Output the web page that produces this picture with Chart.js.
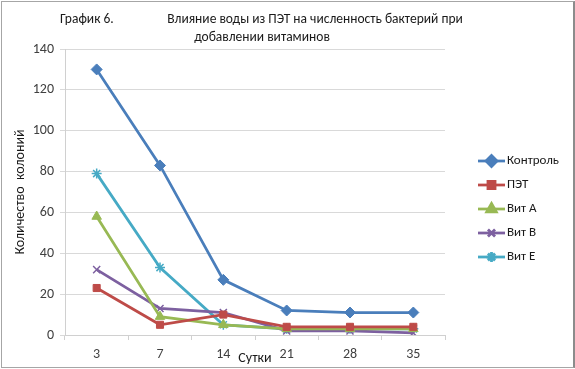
<!DOCTYPE html>
<html>
<head>
<meta charset="utf-8">
<script src="https://cdn.jsdelivr.net/npm/chart.js@4/dist/chart.umd.min.js"></script>
<style>
  html, body { margin: 0; padding: 0; background: #fff; }
  #wrap { position: relative; width: 575px; height: 369px; }
  #frame { position: absolute; left: 1px; top: 1px; width: 571px; height: 365px;
           border: 1px solid #a6a6a6; border-right: 2px solid #8c8c8c; box-sizing: content-box; pointer-events: none; }
</style>
</head>
<body>
<div id="wrap">
  <canvas id="chart" width="575" height="369"></canvas>
  <div id="frame"></div>
</div>
<script>
// Влияние воды из ПЭТ на численность бактерий при добавлении витаминов

const days = ['3', '7', '14', '21', '28', '35'];
const control = [130, 83, 27, 12, 11, 11];
const pet = [23, 5, 10, 4, 4, 4];
const vitA = [58, 9, 5, 3, 3, 3];
const vitB = [32, 13, 11, 2, 2, 1];
const vitE = [79, 33, 5, 3, 3, 3];

const seriesNames = ['Контроль', 'ПЭТ', 'Вит A', 'Вит B', 'Вит E'];
const seriesColors = ['#4a7ebb', '#be4b48', '#98b954', '#7d60a0', '#46aac5'];
const FONT = 'Carlito, "Liberation Sans", sans-serif';

function makeSet(i, values, style, radius) {
    return {
        label: seriesNames[i],
        data: values,
        borderColor: seriesColors[i],
        backgroundColor: seriesColors[i],
        pointStyle: style,
        pointRadius: radius,
        pointBorderWidth: style === 'crossRot' || style === 'star' ? 1.5 : 1,
        borderWidth: 2.75,
        tension: 0
    };
}

// Title drawn over the canvas (Excel-style, not centered on the canvas)
const titlePlugin = {
    id: 'excelTitle',
    afterDraw(chart) {
        const ctx = chart.ctx;
        ctx.save();
        ctx.fillStyle = '#1a1a1a';
        ctx.font = '13.5px ' + FONT;
        ctx.textBaseline = 'middle';
        ctx.textAlign = 'left';
        ctx.fillText('График 6.', 60, 20);
        ctx.textAlign = 'center';
        ctx.fillText('Влияние воды из ПЭТ на численность бактерий при', 315, 20);
        ctx.fillText('добавлении витаминов', 262, 38);
        ctx.restore();
    }
};

// Legend with line + marker like Excel
const legendPlugin = {
    id: 'excelLegend',
    afterDraw(chart) {
        const ctx = chart.ctx;
        chart.data.datasets.forEach((ds, i) => {
            const y = 161 + i * 24;
            ctx.save();
            ctx.strokeStyle = ds.borderColor;
            ctx.fillStyle = ds.backgroundColor;
            ctx.lineWidth = 2.75;
            ctx.beginPath();
            ctx.moveTo(478, y);
            ctx.lineTo(505, y);
            ctx.stroke();
            Chart.helpers.drawPoint(ctx, {
                pointStyle: ds.pointStyle,
                radius: ds.pointRadius,
                borderWidth: ds.pointBorderWidth,
                rotation: 0
            }, 491.5, y);
            ctx.fillStyle = '#1a1a1a';
            ctx.font = '13px ' + FONT;
            ctx.textAlign = 'left';
            ctx.textBaseline = 'middle';
            ctx.fillText(ds.label, 507, y);
            ctx.restore();
        });
    }
};

new Chart(document.getElementById('chart'), {
    type: 'line',
    plugins: [titlePlugin, legendPlugin],
    data: {
        labels: days,
        datasets: [
            makeSet(0, control, 'rectRot', 5.5),
            makeSet(1, pet, 'rect', 5),
            makeSet(2, vitA, 'triangle', 5.5),
            makeSet(3, vitB, 'crossRot', 5),
            makeSet(4, vitE, 'star', 5)
        ]
    },
    options: {
        responsive: false,
        animation: false,
        layout: {
            padding: { left: 0, right: 130, top: 49, bottom: 0 }
        },
        plugins: {
            legend: { display: false },
            title: { display: false },
            tooltip: { enabled: false }
        },
        scales: {
            x: {
                offset: true,
                afterFit: s => { s.height = 34; },
                grid: {
                    offset: true,
                    drawOnChartArea: false,
                    drawTicks: true,
                    tickLength: 5,
                    color: '#d0d0d0'
                },
                border: { color: '#d0d0d0' },
                ticks: {
                    color: '#404040',
                    font: { family: FONT, size: 14 },
                    padding: 6,
                    maxRotation: 0
                },
                title: {
                    display: true,
                    text: 'Сутки',
                    color: '#1a1a1a',
                    font: { family: FONT, size: 14 },
                    padding: { top: 0, bottom: 2 }
                }
            },
            y: {
                min: 0,
                max: 140,
                afterFit: s => { s.width = 65; },
                grid: {
                    color: '#d9d9d9',
                    drawTicks: true,
                    tickLength: 5
                },
                border: { color: '#d0d0d0' },
                ticks: {
                    stepSize: 20,
                    color: '#404040',
                    font: { family: FONT, size: 14 },
                    padding: 6
                },
                title: {
                    display: true,
                    text: 'Количество  колоний',
                    color: '#1a1a1a',
                    font: { family: FONT, size: 14 },
                    padding: { top: 12, bottom: 0 }
                }
            }
        }
    }
});
</script>
</body>
</html>
